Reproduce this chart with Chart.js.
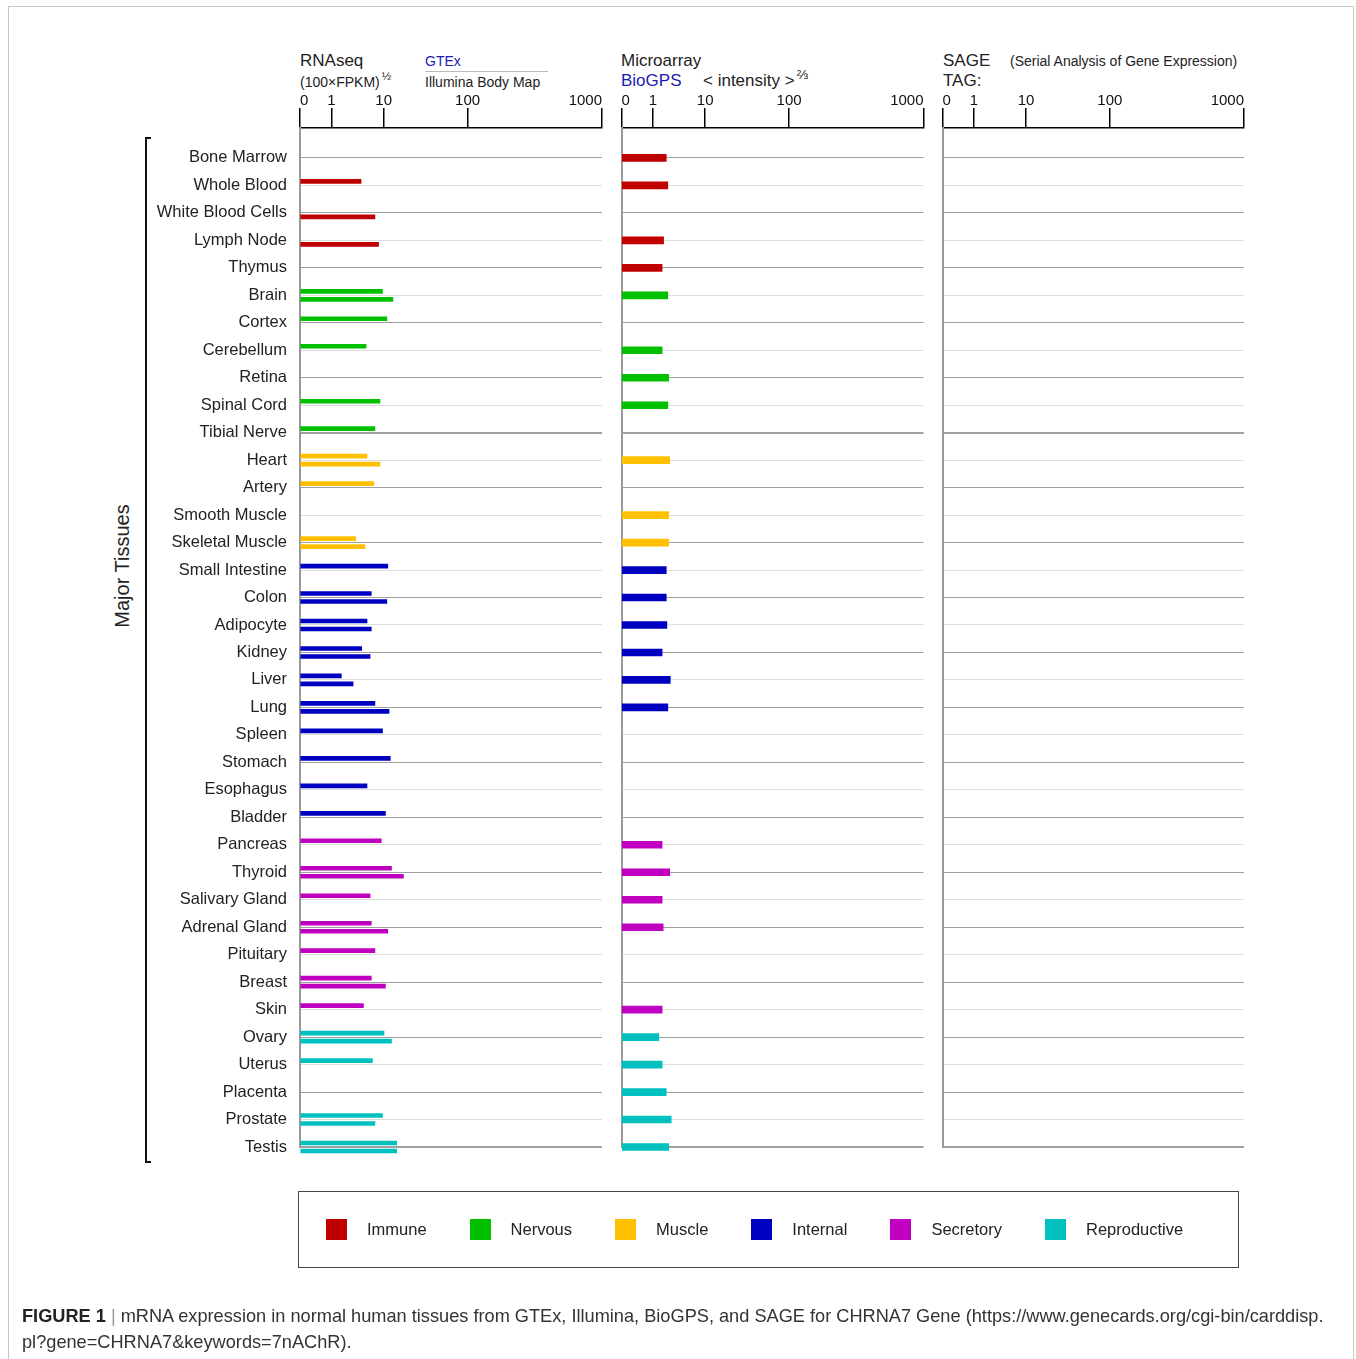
<!DOCTYPE html>
<html>
<head>
<meta charset="utf-8">
<title>CHRNA7 mRNA expression</title>
<script src="https://cdn.jsdelivr.net/npm/chart.js@4.4.1/dist/chart.umd.min.js"></script>
<style>
  body { margin: 0; background: #fff; font-family: "Liberation Sans", Arial, sans-serif; }
  #page { position: relative; width: 1356px; height: 1359px; overflow: hidden; }
  #page canvas { position: absolute; left: 0; top: 0; }
  .frame { position: absolute; left: 8px; top: 6px; width: 1346px; height: 1420px; border: 1px solid #c8c8c8; box-sizing: border-box; }
  .t { position: absolute; white-space: nowrap; color: #222; line-height: 1; }
  .blue { color: #1c1cb4; }
  sup { font-size: 80%; vertical-align: 0; position: relative; top: -7px; margin-left: 2px; }
  .bracket { position: absolute; left: 145px; top: 137px; width: 6px; height: 1026px; border: 2px solid #111; border-right: none; box-sizing: border-box; }
  .ytitle { position: absolute; left: 122px; top: 566px; transform: translate(-50%, -50%) rotate(-90deg); font-size: 20px; color: #222; white-space: nowrap; }
  .legend { position: absolute; left: 298px; top: 1191px; width: 941px; height: 77px; border: 1.5px solid #444; box-sizing: border-box; display: flex; align-items: center; padding-left: 27px; }
  .legend .item { display: flex; align-items: center; margin-right: 43px; font-size: 16.5px; color: #222; }
  .legend .sw { width: 21px; height: 21px; margin-right: 20px; }
  .caption { position: absolute; left: 22px; top: 1303px; font-size: 18.2px; color: #333; line-height: 26px; white-space: nowrap; }
  .caption b { color: #222; }
  .caption .bar { color: #999; margin: 0 5px; }
</style>
</head>
<body>
<div id="page">
  <div class="frame"></div>

  <div class="t" style="left:300px;top:52px;font-size:17px;">RNAseq</div>
  <div class="t" style="left:300px;top:75px;font-size:14px;">(100×FPKM)<sup>½</sup></div>
  <div class="t blue" style="left:425px;top:54px;font-size:14px;">GTEx</div>
  <div style="position:absolute;left:425px;top:71px;width:123px;height:1px;background:#bbb;"></div>
  <div class="t" style="left:425px;top:75px;font-size:14px;">Illumina Body Map</div>

  <div class="t" style="left:621px;top:52px;font-size:17px;">Microarray</div>
  <div class="t blue" style="left:621px;top:72px;font-size:17px;">BioGPS</div>
  <div class="t" style="left:703px;top:72px;font-size:17px;">&lt; intensity &gt;<sup>⅔</sup></div>

  <div class="t" style="left:943px;top:52px;font-size:17px;">SAGE</div>
  <div class="t" style="left:1010px;top:54px;font-size:14px;">(Serial Analysis of Gene Expression)</div>
  <div class="t" style="left:943px;top:72px;font-size:17px;">TAG:</div>

  <div class="bracket"></div>
  <div class="ytitle">Major Tissues</div>

  <canvas id="rnaseq" width="1356" height="1359"></canvas>
  <canvas id="microarray" width="1356" height="1359"></canvas>
  <canvas id="sage" width="1356" height="1359"></canvas>

  <div class="legend" id="legend"></div>

  <div class="caption"><b>FIGURE 1</b><span class="bar">|</span>mRNA expression in normal human tissues from GTEx, Illumina, BioGPS, and SAGE for CHRNA7 Gene (https://www.genecards.org/cgi-bin/carddisp.<br>pl?gene=CHRNA7&amp;keywords=7nAChR).</div>
</div>

<script>
// tissues, top to bottom
const tissues = [
    "Bone Marrow", "Whole Blood", "White Blood Cells", "Lymph Node", "Thymus",
    "Brain", "Cortex", "Cerebellum", "Retina", "Spinal Cord", "Tibial Nerve",
    "Heart", "Artery", "Smooth Muscle", "Skeletal Muscle",
    "Small Intestine", "Colon", "Adipocyte", "Kidney", "Liver", "Lung",
    "Spleen", "Stomach", "Esophagus", "Bladder",
    "Pancreas", "Thyroid", "Salivary Gland", "Adrenal Gland", "Pituitary", "Breast", "Skin",
    "Ovary", "Uterus", "Placenta", "Prostate", "Testis"
];

const groups = ["Immune", "Nervous", "Muscle", "Internal", "Secretory", "Reproductive"];
const groupColors = ["#c00000", "#00c000", "#ffc000", "#0000c0", "#c000c0", "#00c0c0"];
const tissueGroup = [
    0, 0, 0, 0, 0,
    1, 1, 1, 1, 1, 1,
    2, 2, 2, 2,
    3, 3, 3, 3, 3, 3, 3, 3, 3, 3,
    4, 4, 4, 4, 4, 4, 4,
    5, 5, 5, 5, 5
];

// RNAseq, GTEx (upper bar of each row)
const gtex = [
    null, 3.7, null, null, null,
    9.5, 10.9, 4.6, null, 8.5, 6.8,
    4.8, 6.5, null, 2.9,
    11.2, 5.8, 4.8, 3.8, 1.55, 6.8,
    9.5, 12.0, 4.8, 10.5,
    9.0, 12.4, 5.5, 5.8, 6.8, 5.8, 4.1,
    10.1, 6.1, null, 9.5, 14.3
];

// RNAseq, Illumina Body Map (lower bar of each row)
const illumina = [
    null, null, 6.8, 8.0, null,
    12.9, null, null, null, null, null,
    8.5, null, null, 4.4,
    null, 10.9, 5.8, 5.5, 2.6, 11.6,
    null, null, null, null,
    null, 17.2, null, 11.2, null, 10.5, null,
    12.4, null, null, 6.8, 14.3
];

// Microarray, BioGPS
const biogps = [
    1.8, 1.93, null, 1.6, 1.5,
    1.93, null, 1.5, 2.0, 1.93, null,
    2.1, null, 2.0, 2.0,
    1.8, 1.8, 1.85, 1.5, 2.15, 1.93,
    null, null, null, null,
    1.5, 2.1, 1.5, 1.57, null, null, 1.5,
    1.3, 1.5, 1.8, 2.24, 2.0
];

// SAGE: no tags for this gene
const sageTags = [];

const tickValues = [0, 1, 10, 100, 1000];
const tickLabels = ["0", "1", "10", "100", "1000"];

// GeneCards style axis: linear up to 1, then one stretch per decade
const stopFrac = [0, 0.104, 0.277, 0.555, 1];

function valueToFrac(v) {
    if (v <= 0) return 0;
    if (v <= 1) return v * stopFrac[1];
    const d = Math.min(Math.log10(v), 3);
    const k = Math.min(Math.floor(d), 2);
    return stopFrac[k + 1] + (d - k) * (stopFrac[k + 2] - stopFrac[k + 1]);
}

function fracToValue(f) {
    if (f <= stopFrac[1]) return f / stopFrac[1];
    for (let k = 1; k < 4; k++) {
        if (f <= stopFrac[k + 1]) {
            return Math.pow(10, k - 1 + (f - stopFrac[k]) / (stopFrac[k + 1] - stopFrac[k]));
        }
    }
    return 1000;
}

class ExprScale extends Chart.LinearScale {
    getPixelForValue(value) {
        return this.getPixelForDecimal(valueToFrac(value));
    }
    getValueForPixel(pixel) {
        return fracToValue(this.getDecimalForPixel(pixel));
    }
}
ExprScale.id = 'expr';
ExprScale.defaults = Chart.LinearScale.defaults;
Chart.register(ExprScale);

function points(values) {
    return values
        .map((v, i) => (v == null ? null : { x: v, y: i }))
        .filter(p => p !== null);
}

const barColor = ctx => (ctx.raw ? groupColors[tissueGroup[ctx.raw.y]] : '#000');

function makeChart(id, datasets, area, showLabels) {
    const ctx = document.getElementById(id).getContext('2d');
    return new Chart(ctx, {
        type: 'bar',
        data: { datasets: datasets },
        options: {
            indexAxis: 'y',
            responsive: false,
            animation: false,
            devicePixelRatio: 1,
            layout: {
                padding: { left: showLabels ? 0 : area.left, right: 1356 - area.right, top: 128 - 40, bottom: 1359 - 1147 }
            },
            scales: {
                x: {
                    type: 'expr',
                    position: 'top',
                    min: 0,
                    max: 1000,
                    afterBuildTicks: s => { s.ticks = tickValues.map(v => ({ value: v })); },
                    afterFit: s => { s.height = 40; },
                    ticks: {
                        autoSkip: false,
                        maxRotation: 0,
                        padding: -2,
                        align: 'inner',
                        color: '#111',
                        font: { family: 'Liberation Sans', size: 15 },
                        callback: (v, i) => tickLabels[i]
                    },
                    grid: { drawOnChartArea: false, tickLength: 20, color: '#000', lineWidth: 1.5 },
                    border: { color: '#000', width: 1.5 }
                },
                y: {
                    type: 'linear',
                    reverse: true,
                    offset: false,
                    min: -1.09,
                    max: tissues.length - 1,
                    afterBuildTicks: s => { s.ticks = tissues.map((t, i) => ({ value: i })); },
                    afterFit: s => { s.width = showLabels ? area.left : 0; },
                    ticks: {
                        display: showLabels,
                        autoSkip: false,
                        padding: 13,
                        color: '#222',
                        font: { family: 'Liberation Sans', size: 16.5 },
                        callback: v => tissues[v]
                    },
                    grid: {
                        offset: false,
                        drawTicks: false,
                        color: c => (c.tick && c.tick.value % 2 === 0 ? '#a0a0a0' : '#dedede'),
                        lineWidth: c => (c.tick && (c.tick.value === 10 || c.tick.value === tissues.length - 1) ? 2 : 1)
                    },
                    border: { color: '#999', width: 2 }
                }
            },
            plugins: {
                legend: { display: false },
                tooltip: { enabled: false }
            }
        }
    });
}

makeChart('rnaseq', [
    { label: 'GTEx', data: points(gtex), backgroundColor: barColor, barThickness: 8, maxBarThickness: 4, clip: false },
    { label: 'Illumina Body Map', data: points(illumina), backgroundColor: barColor, barThickness: 8, maxBarThickness: 4, clip: false }
], { left: 300, right: 602 }, true);

makeChart('microarray', [
    { label: 'BioGPS', data: points(biogps), backgroundColor: barColor, barThickness: 7, clip: false }
], { left: 621.5, right: 923.5 }, false);

makeChart('sage', [
    { label: 'SAGE', data: points(sageTags), backgroundColor: barColor, barThickness: 7, clip: false }
], { left: 942.5, right: 1244 }, false);

// legend
const legend = document.getElementById('legend');
groups.forEach((g, i) => {
    const item = document.createElement('div');
    item.className = 'item';
    item.innerHTML = `<span class="sw" style="background:${groupColors[i]}"></span><span>${g}</span>`;
    legend.appendChild(item);
});
</script>
</body>
</html>
